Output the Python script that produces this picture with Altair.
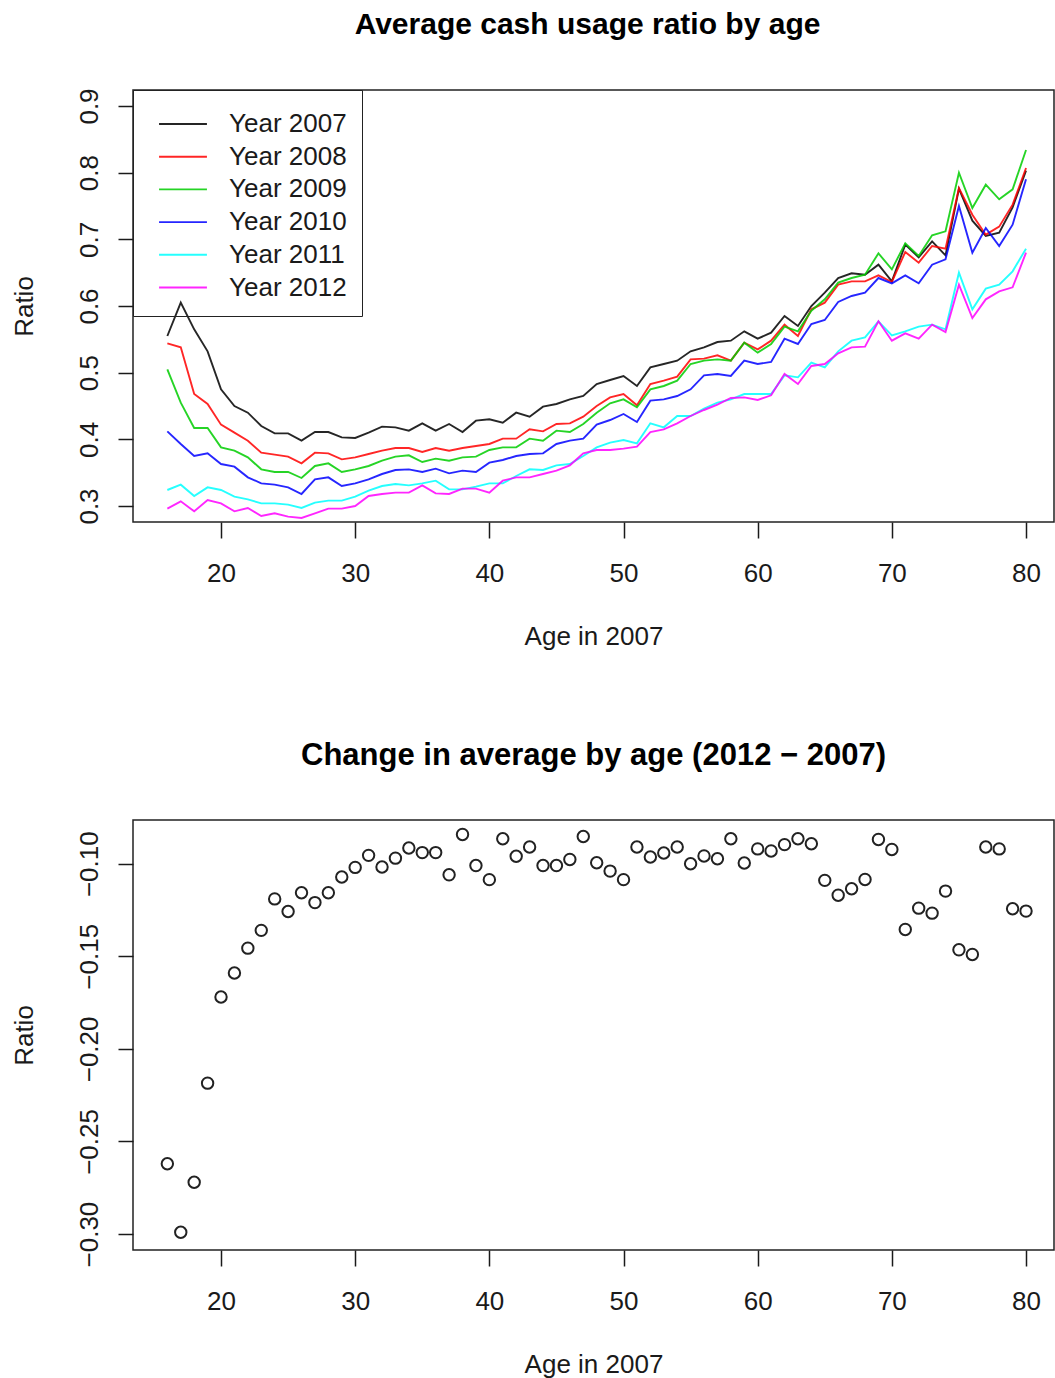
import altair as alt
import pandas as pd

# Ages of respondents in 2007
ages = list(range(16, 81))

years = ["Year 2007", "Year 2008", "Year 2009", "Year 2010", "Year 2011", "Year 2012"]
year_colors = ["#000000", "#FF0000", "#00CD00", "#0000FF", "#00FFFF", "#FF00FF"]

ratio_2007 = [0.555, 0.605, 0.565, 0.532, 0.475, 0.450, 0.440, 0.420, 0.409, 0.409,
              0.398, 0.411, 0.411, 0.403, 0.402, 0.410, 0.419, 0.418, 0.413, 0.424,
              0.413, 0.423, 0.411, 0.428, 0.430, 0.425, 0.440, 0.434, 0.449, 0.453,
              0.460, 0.465, 0.483, 0.489, 0.495, 0.480, 0.508, 0.513, 0.518, 0.532,
              0.538, 0.546, 0.548, 0.562, 0.551, 0.560, 0.585, 0.570, 0.600, 0.620,
              0.642, 0.649, 0.647, 0.662, 0.637, 0.692, 0.673, 0.697, 0.676, 0.776,
              0.728, 0.705, 0.710, 0.748, 0.803]
ratio_2008 = [0.544, 0.538, 0.468, 0.453, 0.422, 0.410, 0.398, 0.380, 0.377, 0.374,
              0.364, 0.380, 0.379, 0.370, 0.373, 0.378, 0.383, 0.387, 0.387, 0.381,
              0.387, 0.383, 0.387, 0.390, 0.393, 0.401, 0.401, 0.415, 0.412, 0.423,
              0.424, 0.434, 0.450, 0.463, 0.468, 0.451, 0.483, 0.488, 0.494, 0.520,
              0.521, 0.526, 0.518, 0.545, 0.535, 0.548, 0.572, 0.555, 0.595, 0.605,
              0.632, 0.637, 0.637, 0.646, 0.636, 0.681, 0.665, 0.690, 0.686, 0.777,
              0.737, 0.707, 0.719, 0.752, 0.807]
ratio_2009 = [0.505, 0.455, 0.417, 0.417, 0.388, 0.383, 0.373, 0.355, 0.351, 0.351,
              0.342, 0.360, 0.364, 0.351, 0.355, 0.360, 0.368, 0.374, 0.376, 0.366,
              0.371, 0.368, 0.373, 0.374, 0.384, 0.388, 0.388, 0.401, 0.398, 0.413,
              0.411, 0.423, 0.440, 0.454, 0.460, 0.448, 0.475, 0.480, 0.488, 0.513,
              0.518, 0.520, 0.518, 0.545, 0.530, 0.543, 0.569, 0.562, 0.593, 0.610,
              0.635, 0.642, 0.647, 0.679, 0.655, 0.694, 0.675, 0.706, 0.712, 0.800,
              0.747, 0.782, 0.760, 0.775, 0.834]
ratio_2010 = [0.412, 0.393, 0.375, 0.379, 0.363, 0.359, 0.343, 0.334, 0.332, 0.328,
              0.318, 0.340, 0.343, 0.330, 0.334, 0.340, 0.348, 0.354, 0.355, 0.351,
              0.356, 0.349, 0.353, 0.351, 0.365, 0.369, 0.375, 0.378, 0.379, 0.393,
              0.398, 0.401, 0.422, 0.429, 0.438, 0.426, 0.458, 0.460, 0.465, 0.475,
              0.496, 0.498, 0.495, 0.518, 0.513, 0.516, 0.551, 0.543, 0.573, 0.579,
              0.606, 0.615, 0.620, 0.642, 0.634, 0.646, 0.634, 0.662, 0.670, 0.750,
              0.680, 0.717, 0.690, 0.722, 0.790]
ratio_2011 = [0.324, 0.332, 0.315, 0.328, 0.324, 0.314, 0.310, 0.304, 0.304, 0.302,
              0.297, 0.305, 0.308, 0.308, 0.314, 0.323, 0.330, 0.333, 0.331, 0.334,
              0.338, 0.325, 0.325, 0.329, 0.334, 0.334, 0.345, 0.355, 0.354, 0.361,
              0.363, 0.375, 0.388, 0.395, 0.399, 0.394, 0.424, 0.418, 0.435, 0.435,
              0.446, 0.455, 0.460, 0.468, 0.468, 0.468, 0.496, 0.493, 0.515, 0.508,
              0.532, 0.548, 0.553, 0.577, 0.556, 0.562, 0.569, 0.572, 0.565, 0.650,
              0.595, 0.626, 0.632, 0.652, 0.686]
ratio_2012 = [0.296, 0.307, 0.292, 0.309, 0.304, 0.292, 0.297, 0.285, 0.289, 0.284,
              0.282, 0.289, 0.296, 0.296, 0.300, 0.315, 0.318, 0.320, 0.320, 0.331,
              0.319, 0.318, 0.326, 0.326, 0.320, 0.338, 0.343, 0.343, 0.348, 0.353,
              0.361, 0.379, 0.384, 0.384, 0.386, 0.389, 0.411, 0.415, 0.424, 0.435,
              0.444, 0.452, 0.462, 0.463, 0.459, 0.466, 0.498, 0.483, 0.510, 0.513,
              0.529, 0.538, 0.539, 0.577, 0.548, 0.559, 0.551, 0.572, 0.561, 0.632,
              0.582, 0.610, 0.622, 0.628, 0.680]

# Change in average ratio between 2012 and 2007
change_2012_2007 = [-0.262, -0.299, -0.272, -0.2185, -0.172, -0.159, -0.1456, -0.136, -0.119, -0.1258,
                    -0.1157, -0.121, -0.1157, -0.1072, -0.102, -0.0955, -0.1018, -0.097, -0.0915, -0.094,
                    -0.094, -0.106, -0.0842, -0.101, -0.1086, -0.0865, -0.096, -0.091, -0.101, -0.101,
                    -0.0977, -0.0853, -0.0995, -0.104, -0.1086, -0.091, -0.0964, -0.0942, -0.091, -0.100,
                    -0.0958, -0.0973, -0.0865, -0.0996, -0.092, -0.0931, -0.0897, -0.0865, -0.0892, -0.109,
                    -0.117, -0.1135, -0.1085, -0.0869, -0.0923, -0.1355, -0.124, -0.1267, -0.1148, -0.1465,
                    -0.149, -0.091, -0.092, -0.1243, -0.1256]

series = [ratio_2007, ratio_2008, ratio_2009, ratio_2010, ratio_2011, ratio_2012]
lines_df = pd.DataFrame(
    [{"age": a, "year": y, "ratio": v} for y, vals in zip(years, series) for a, v in zip(ages, vals)]
)
change_df = pd.DataFrame({"age": ages, "change": change_2012_2007})

FONT = "Liberation Sans"
TEXT = "#1a1a1a"
FS = 26
PLOT_W = 921

age_ticks = [20, 30, 40, 50, 60, 70, 80]
x_scale = alt.Scale(domain=[13.44, 82.085], nice=False, zero=False)


def x_axis():
    return alt.Axis(
        values=age_ticks, title="Age in 2007", grid=False, domain=False,
        tickSize=16, tickWidth=1.5, tickColor=TEXT,
        labelFont=FONT, labelFontSize=FS, labelColor=TEXT, labelPadding=22,
        labelFlush=False, labelOverlap=False,
        titleFont=FONT, titleFontSize=FS, titleFontWeight="normal", titleColor=TEXT,
        titlePadding=37,
    )


def y_axis(ticks, fmt, height):
    return alt.Axis(
        values=ticks, format=fmt, title="Ratio", grid=False, domain=False,
        tickSize=15, tickWidth=1.5, tickColor=TEXT,
        labelFont=FONT, labelFontSize=FS, labelColor=TEXT, labelPadding=21,
        labelAngle=270, labelAlign="center", labelBaseline="alphabetic",
        labelFlush=False, labelOverlap=False,
        titleFont=FONT, titleFontSize=FS, titleFontWeight="normal", titleColor=TEXT,
        titleAngle=270, titleAlign="center", titleBaseline="alphabetic",
        titleX=-101, titleY=height / 2,
    )


def panel_title(text, size, dx):
    return alt.TitleParams(
        text=text, font=FONT, fontSize=size, fontWeight="bold", color="#000000",
        anchor="middle", frame="group", baseline="alphabetic", offset=24, dx=dx,
    )


TOP_H = 432
top = alt.Chart(lines_df).mark_line(strokeWidth=1.9, opacity=0.85, clip=True).encode(
    x=alt.X("age:Q", scale=x_scale, axis=x_axis()),
    y=alt.Y("ratio:Q", scale=alt.Scale(domain=[0.276, 0.924], nice=False, zero=False),
            axis=y_axis([0.3, 0.4, 0.5, 0.6, 0.7, 0.8, 0.9], ".1f", TOP_H)),
    color=alt.Color(
        "year:N",
        scale=alt.Scale(domain=years, range=year_colors),
        legend=alt.Legend(
            title=None, orient="none", legendX=0, legendY=0,
            strokeColor="#222222", padding=15,
            symbolType="M-1.33,0H1.33", symbolSize=1296, symbolStrokeWidth=1.9,
            symbolOffset=16, labelOffset=27, rowPadding=0.7,
            labelFont=FONT, labelFontSize=FS, labelColor=TEXT,
        ),
    ),
).properties(width=PLOT_W, height=TOP_H,
             title=panel_title("Average cash usage ratio by age", 30, -6))

BOT_H = 430
bottom = alt.Chart(change_df).mark_point(
    shape="circle", filled=False, size=130, strokeWidth=2, color="#222222", opacity=1
).encode(
    x=alt.X("age:Q", scale=x_scale, axis=x_axis()),
    y=alt.Y("change:Q", scale=alt.Scale(domain=[-0.3086, -0.0764], nice=False, zero=False),
            axis=y_axis([-0.30, -0.25, -0.20, -0.15, -0.10], ".2f", BOT_H)),
).properties(width=PLOT_W, height=BOT_H,
             title=panel_title("Change in average by age (2012 \u2212 2007)", 31, 0))

chart = alt.vconcat(top, bottom, spacing=89).properties(
    padding={"left": 10, "top": 9, "right": 0, "bottom": 0},
    background="white",
).configure_view(stroke="#222222", strokeWidth=1.5)

chart.save("out.html", embed_options={"renderer": "svg", "actions": False})
